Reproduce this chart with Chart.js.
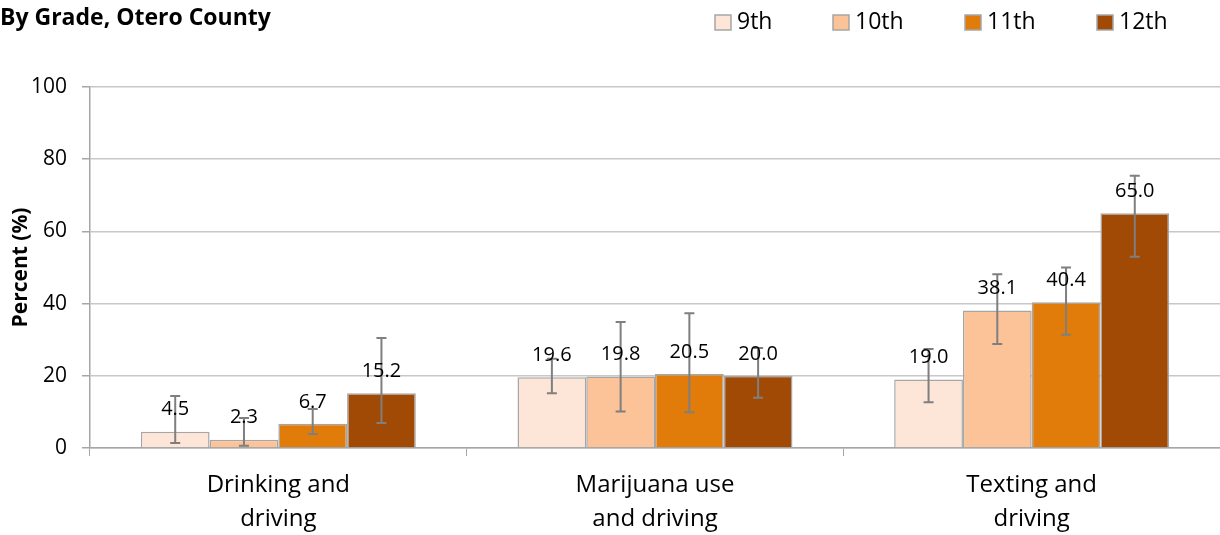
<!DOCTYPE html>
<html>
<head>
<meta charset="utf-8">
<script src="https://cdn.jsdelivr.net/npm/chart.js@4.4.1/dist/chart.umd.min.js"></script>
<style>
  html, body { margin: 0; padding: 0; background: #fff; }
  #wrap { position: relative; width: 1220px; height: 535px; }
</style>
</head>
<body>
<div id="wrap"><canvas id="chart" width="1220" height="535"></canvas></div>
<script>
// chart data
const categories = [["Drinking and", "driving"], ["Marijuana use", "and driving"], ["Texting and", "driving"]];
const grades = ["9th", "10th", "11th", "12th"];
const values9 = [4.5, 19.6, 19.0];
const values10 = [2.3, 19.8, 38.1];
const values11 = [6.7, 20.5, 40.4];
const values12 = [15.2, 20.0, 65.0];
// confidence interval bounds
const low9 = [1.4, 15.2, 12.7];
const high9 = [14.4, 24.7, 27.4];
const low10 = [0.6, 10.1, 28.8];
const high10 = [8.3, 34.9, 48.1];
const low11 = [3.9, 9.9, 31.4];
const high11 = [10.8, 37.3, 50.0];
const low12 = [6.9, 13.9, 53.0];
const high12 = [30.5, 27.7, 75.4];
const yTicks = [0, 20, 40, 60, 80, 100];

const colors = ["#FDE5D8", "#FCC399", "#E17C0A", "#A04A06"];
const FONT = "'Open Sans', sans-serif";

function makeSet(label, data, low, high, color) {
  return {
    label: label,
    data: data,
    errLow: low,
    errHigh: high,
    backgroundColor: color,
    borderColor: "#A6A6A6",
    borderWidth: 1.5,
    categoryPercentage: 0.73,
    barPercentage: 1.0,
  };
}

// error bars + value labels
const errorBarPlugin = {
  id: "errorBars",
  afterDatasetsDraw(chart) {
    const ctx = chart.ctx;
    const y = chart.scales.y;
    chart.data.datasets.forEach((ds, i) => {
      const meta = chart.getDatasetMeta(i);
      meta.data.forEach((bar, j) => {
        const x = bar.x;
        const yl = y.getPixelForValue(ds.errLow[j]);
        const yh = y.getPixelForValue(ds.errHigh[j]);
        ctx.save();
        ctx.strokeStyle = "#7F7F7F";
        ctx.lineWidth = 2;
        ctx.beginPath();
        ctx.moveTo(x, yl);
        ctx.lineTo(x, yh);
        ctx.moveTo(x - 5, yl);
        ctx.lineTo(x + 5, yl);
        ctx.moveTo(x - 5, yh);
        ctx.lineTo(x + 5, yh);
        ctx.stroke();
        ctx.restore();
      });
    });
    chart.data.datasets.forEach((ds, i) => {
      const meta = chart.getDatasetMeta(i);
      meta.data.forEach((bar, j) => {
        ctx.save();
        ctx.fillStyle = "#000";
        ctx.font = "20px " + FONT;
        ctx.textAlign = "center";
        ctx.textBaseline = "middle";
        ctx.fillText(ds.data[j].toFixed(1), bar.x, bar.y - 22);
        ctx.restore();
      });
    });
  },
};

// title + legend at the top
const headerPlugin = {
  id: "header",
  afterDraw(chart) {
    const ctx = chart.ctx;
    ctx.save();
    ctx.fillStyle = "#000";
    ctx.font = "bold 23px " + FONT;
    ctx.textAlign = "left";
    ctx.textBaseline = "middle";
    ctx.fillText("By Grade, Otero County", 0, 18);
    let x = 715;
    chart.data.datasets.forEach((ds) => {
      ctx.fillStyle = ds.backgroundColor;
      ctx.fillRect(x, 15, 16, 15);
      ctx.strokeStyle = "#A6A6A6";
      ctx.lineWidth = 1.5;
      ctx.strokeRect(x, 15, 16, 15);
      ctx.fillStyle = "#000";
      ctx.font = "23px " + FONT;
      ctx.fillText(ds.label, x + 22, 22);
      x += ds.label.length > 3 ? 132 : 118;
    });
    ctx.restore();
  },
};

new Chart(document.getElementById("chart"), {
  type: "bar",
  data: {
    labels: categories,
    datasets: [
      makeSet(grades[0], values9, low9, high9, colors[0]),
      makeSet(grades[1], values10, low10, high10, colors[1]),
      makeSet(grades[2], values11, low11, high11, colors[2]),
      makeSet(grades[3], values12, low12, high12, colors[3]),
    ],
  },
  options: {
    responsive: false,
    animation: false,
    layout: { padding: { top: 87, right: 0, left: 0, bottom: 0 } },
    plugins: {
      legend: { display: false },
      tooltip: { enabled: false },
    },
    scales: {
      x: {
        grid: {
          offset: true,
          drawOnChartArea: false,
          drawTicks: true,
          tickLength: 8,
          color: "#A6A6A6",
        },
        border: { color: "#A6A6A6", width: 1.5 },
        ticks: {
          color: "#000",
          font: { family: FONT, size: 24, lineHeight: 1.42 },
          padding: 12,
          maxRotation: 0,
        },
        afterFit(scale) {
          scale.height = 87;
        },
      },
      y: {
        min: 0,
        max: 100,
        afterBuildTicks(scale) {
          scale.ticks = yTicks.map((v) => ({ value: v }));
        },
        grid: {
          color: "#C8C8C8",
          lineWidth: 1.5,
          tickLength: 8,
          tickColor: "#A6A6A6",
        },
        border: { color: "#A6A6A6", width: 1.5 },
        ticks: {
          color: "#000",
          font: { family: FONT, size: 21 },
          padding: 15,
        },
        title: {
          display: true,
          text: "Percent (%)",
          color: "#000",
          font: { family: FONT, size: 21, weight: "bold" },
          padding: { top: 8, bottom: 0 },
        },
        afterFit(scale) {
          scale.width = 90;
        },
      },
    },
  },
  plugins: [errorBarPlugin, headerPlugin],
});
</script>
</body>
</html>
